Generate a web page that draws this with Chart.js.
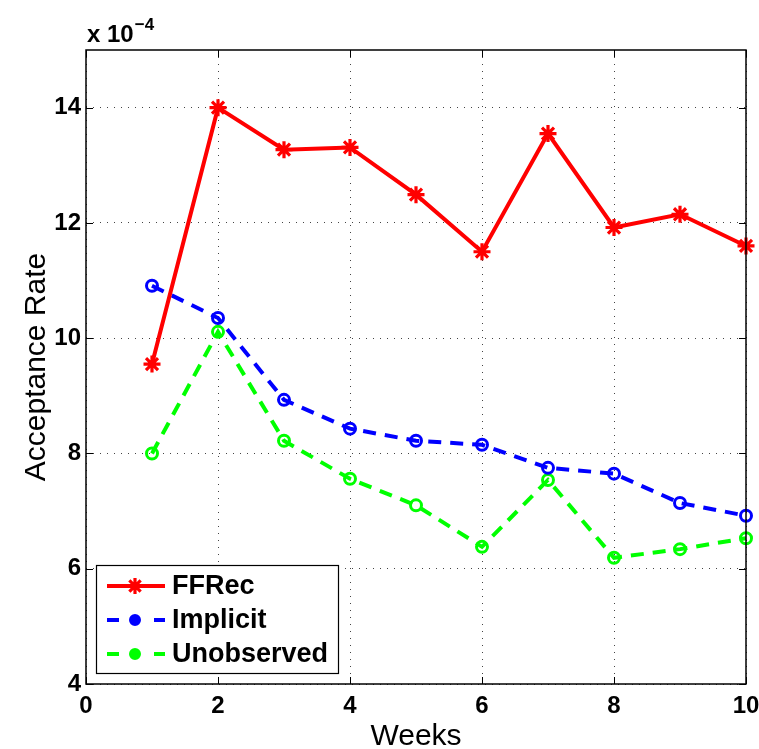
<!DOCTYPE html>
<html><head><meta charset="utf-8">
<style>html,body{margin:0;padding:0;background:#fff}#wrap{width:759px;height:749px}</style>
<script src="https://cdn.jsdelivr.net/npm/chart.js@4/dist/chart.umd.min.js"></script>
</head><body><div id="wrap"><canvas id="c" width="759" height="749"></canvas></div>
<script>
const weeks = [1,2,3,4,5,6,7,8,9,10];
const ffrec = [9.55,14.0,13.27,13.31,12.49,11.5,13.55,11.92,12.15,11.6];
const implicit = [10.91,10.35,8.93,8.43,8.22,8.15,7.75,7.65,7.14,6.92];
const unobserved = [8.0,10.11,8.22,7.56,7.1,6.38,7.54,6.19,6.34,6.53];
const xTicks = [0,2,4,6,8,10];
const yTicks = [4,6,8,10,12,14];
const seriesNames = ['FFRec','Implicit','Unobserved'];
const seriesColors = ['#ff0000','#0000ff','#00ff00'];
const xTitle = 'Weeks';
const yTitle = 'Acceptance Rate';

const FONT = '"Liberation Sans", Arial, Helvetica, sans-serif';

function pts(arr){ return weeks.map((w,i)=>({x:w,y:arr[i]})); }

const frame = {
  id:'frame',
  afterDatasetsDraw(chart){
    const {ctx, chartArea:a, scales:{x,y}} = chart;
    ctx.save();
    ctx.strokeStyle = '#000';
    ctx.lineWidth = 1;
    const tl = 7;
    ctx.beginPath();
    xTicks.forEach(v=>{ const px = Math.round(x.getPixelForValue(v))+0.5;
      ctx.moveTo(px,a.bottom); ctx.lineTo(px,a.bottom-tl);
      ctx.moveTo(px,a.top); ctx.lineTo(px,a.top+tl); });
    yTicks.forEach(v=>{ const py = Math.round(y.getPixelForValue(v))+0.5;
      ctx.moveTo(a.left,py); ctx.lineTo(a.left+tl,py);
      ctx.moveTo(a.right,py); ctx.lineTo(a.right-tl,py); });
    ctx.stroke();
    ctx.lineWidth = 1.5;
    ctx.strokeRect(a.left, a.top, a.right-a.left, a.bottom-a.top);
    ctx.restore();
  },
  afterDraw(chart){
    const {ctx, chartArea:a} = chart;
    ctx.save();
    ctx.fillStyle = '#000';
    ctx.font = 'bold 24px ' + FONT;
    ctx.textAlign = 'left'; ctx.textBaseline = 'alphabetic';
    ctx.fillText('x 10', 87, 42);
    const w = ctx.measureText('x 10').width;
    ctx.font = 'bold 17px ' + FONT;
    ctx.fillText('\u22124', 87 + w + 1, 30);
    ctx.font = '30px ' + FONT;
    ctx.textAlign = 'center';
    ctx.fillText(xTitle, (a.left+a.right)/2, 745);
    ctx.save();
    ctx.translate(45, (a.top+a.bottom)/2);
    ctx.rotate(-Math.PI/2);
    ctx.fillText(yTitle, 0, 0);
    ctx.restore();
    const bx=96, by=565, bw=242, bh=108;
    ctx.fillStyle='#fff'; ctx.fillRect(bx,by,bw,bh);
    ctx.strokeStyle='#000'; ctx.lineWidth=1.2; ctx.strokeRect(bx+0.5,by+0.5,bw,bh);
    const rows=[586,620,654];
    seriesNames.forEach((name,i)=>{
      const yy=rows[i];
      ctx.strokeStyle=seriesColors[i]; ctx.fillStyle=seriesColors[i];
      ctx.lineWidth=4;
      ctx.beginPath();
      if(i===0){ ctx.moveTo(107,yy); ctx.lineTo(165,yy); }
      else { ctx.moveTo(107,yy); ctx.lineTo(119,yy); ctx.moveTo(154,yy); ctx.lineTo(165,yy); }
      ctx.stroke();
      if(i===0){
        ctx.lineWidth=3.2; const r=8; ctx.beginPath();
        for(let k=0;k<4;k++){ const ang=k*Math.PI/4; ctx.moveTo(135-r*Math.cos(ang),yy-r*Math.sin(ang)); ctx.lineTo(135+r*Math.cos(ang),yy+r*Math.sin(ang)); }
        ctx.stroke();
      } else {
        ctx.lineWidth=3; ctx.beginPath(); ctx.arc(135,yy,4.5,0,Math.PI*2); ctx.fill(); ctx.stroke();
      }
      ctx.fillStyle='#000';
      ctx.font='bold 27px ' + FONT;
      ctx.textAlign='left'; ctx.textBaseline='middle';
      ctx.fillText(name,172,yy+1);
    });
    ctx.restore();
  }
};

new Chart(document.getElementById('c'), {
  type:'line',
  data:{ datasets:[
    { label:seriesNames[0], data:pts(ffrec), borderColor:seriesColors[0], backgroundColor:seriesColors[0],
      borderWidth:4, pointStyle:'star', pointRadius:8.5, pointBorderWidth:3.2, pointBorderColor:seriesColors[0], clip:false, tension:0 },
    { label:seriesNames[1], data:pts(implicit), borderColor:seriesColors[1], backgroundColor:'rgba(0,0,0,0)',
      borderWidth:4, borderDash:[13,9], pointStyle:'circle', pointRadius:5.5, pointBorderWidth:3, pointBorderColor:seriesColors[1], clip:false, tension:0 },
    { label:seriesNames[2], data:pts(unobserved), borderColor:seriesColors[2], backgroundColor:'rgba(0,0,0,0)',
      borderWidth:4, borderDash:[13,9], pointStyle:'circle', pointRadius:5.5, pointBorderWidth:3, pointBorderColor:seriesColors[2], clip:false, tension:0 }
  ]},
  options:{
    responsive:false, animation:false, devicePixelRatio:1,
    layout:{ padding:{ left:0, top:50, right:13, bottom:0 } },
    plugins:{ legend:{display:false}, tooltip:{enabled:false}, title:{display:false} },
    scales:{
      x:{ type:'linear', min:0, max:10,
        afterBuildTicks(s){ s.ticks = xTicks.map(v=>({value:v})); },
        afterFit(s){ s.height = 65; s.paddingLeft = 0; s.paddingRight = 0; },
        grid:{ color:'#444', lineWidth:1, drawTicks:false },
        border:{ display:false, dash:[1,6] },
        ticks:{ padding:8, color:'#000', font:{ family:FONT, size:24, weight:'bold' }, maxRotation:0 }
      },
      y:{ type:'linear', min:4, max:15,
        afterBuildTicks(s){ s.ticks = yTicks.map(v=>({value:v})); },
        afterFit(s){ s.width = 86; s.paddingTop = 0; s.paddingBottom = 0; },
        grid:{ color:'#444', lineWidth:1, drawTicks:false },
        border:{ display:false, dash:[1,6] },
        ticks:{ padding:5, color:'#000', font:{ family:FONT, size:24, weight:'bold' } }
      }
    }
  },
  plugins:[frame]
});
</script></body></html>
